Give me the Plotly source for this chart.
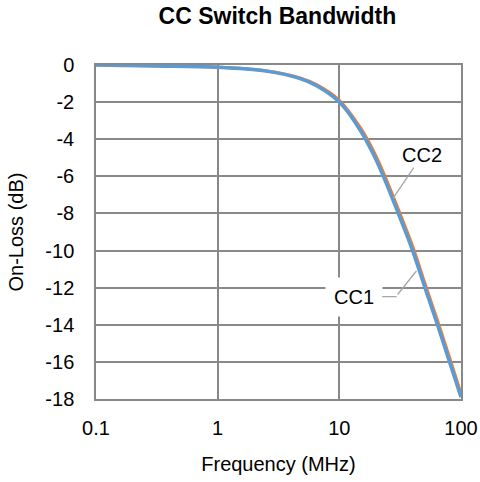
import math
import plotly.graph_objects as go

freq_mhz = [0.1, 0.3, 1, 2.5, 4.7, 6.5, 10, 14.8, 19, 23, 30.5, 40, 50.5, 64, 80.5, 100]
cc1_db = [0, -0.05, -0.12, -0.33, -0.72, -1.12, -2.0, -3.5, -4.8, -6.0, -8.0, -10.0, -12.0, -14.0, -16.0, -17.9]
cc2_db = [0, -0.04, -0.11, -0.31, -0.68, -1.06, -1.9, -3.35, -4.6, -5.78, -7.76, -9.76, -11.76, -13.76, -15.76, -17.7]

x_tickvals = [0.1, 1, 10, 100]
x_ticktext = ["0.1", "1", "10", "100"]
y_tickvals = [0, -2, -4, -6, -8, -10, -12, -14, -16, -18]
y_ticktext = ["0", "-2", "-4", "-6", "-8", "-10", "-12", "-14", "-16", "-18"]

FONT = "Liberation Sans, Arial, sans-serif"
GRID = "#898989"

fig = go.Figure()
fig.add_trace(go.Scatter(x=freq_mhz, y=cc2_db, mode="lines", name="CC2",
                         line=dict(color="#ED7D31", width=3, shape="spline"), showlegend=False))
fig.add_trace(go.Scatter(x=freq_mhz, y=cc1_db, mode="lines", name="CC1",
                         line=dict(color="#5B9BD5", width=3.5, shape="spline"), showlegend=False))

# CC2 label with leader line
fig.add_annotation(x=math.log10(27.7), y=-7.18, text="CC2", showarrow=True, arrowhead=0,
                   arrowcolor="#A6A6A6", arrowwidth=1.3, ax=29, ay=-43,
                   font=dict(family=FONT, size=20, color="#000000"), standoff=0)
# CC1 label (boxed) with elbow leader line
fig.add_annotation(x=math.log10(29.6), y=-12.48, text="CC1", showarrow=True, arrowhead=0,
                   arrowcolor="#A6A6A6", arrowwidth=1.3, ax=-43, ay=0,
                   bgcolor="#FFFFFF", borderpad=8,
                   font=dict(family=FONT, size=20, color="#000000"), standoff=0)
fig.add_annotation(x=math.log10(43), y=-11.1, text="", showarrow=True, arrowhead=0,
                   arrowcolor="#A6A6A6", arrowwidth=1.3, ax=-20, ay=25, standoff=0)

fig.update_layout(
    width=480, height=482,
    margin=dict(l=96, r=19, t=65, b=83, autoexpand=False),
    paper_bgcolor="#FFFFFF", plot_bgcolor="#FFFFFF",
    title=dict(text="<b>CC Switch Bandwidth</b>", x=0.578, xanchor="center", y=0.966, yanchor="middle",
               font=dict(family=FONT, size=23, color="#000000")),
    font=dict(family=FONT, size=20, color="#000000"),
)
fig.update_xaxes(type="log", range=[-1, 2], tickvals=x_tickvals, ticktext=x_ticktext,
                 showgrid=True, gridcolor=GRID, gridwidth=1.5,
                 showline=True, linecolor=GRID, linewidth=1.5, mirror=True,
                 ticks="", ticklabelstandoff=10, zeroline=False, automargin=False,
                 title=dict(text="Frequency (MHz)", standoff=19, font=dict(family=FONT, size=20)),
                 tickfont=dict(family=FONT, size=20))
fig.update_yaxes(range=[-18, 0], tickvals=y_tickvals, ticktext=y_ticktext,
                 showgrid=True, gridcolor=GRID, gridwidth=1.5,
                 showline=True, linecolor=GRID, linewidth=1.5, mirror=True,
                 ticks="", ticklabelstandoff=16, zeroline=False, automargin=False,
                 title=dict(text="On-Loss (dB)", standoff=16, font=dict(family=FONT, size=20)),
                 tickfont=dict(family=FONT, size=20))

fig.write_html("out.html", config={"displayModeBar": False},
               post_script="document.body.style.margin='0';")
